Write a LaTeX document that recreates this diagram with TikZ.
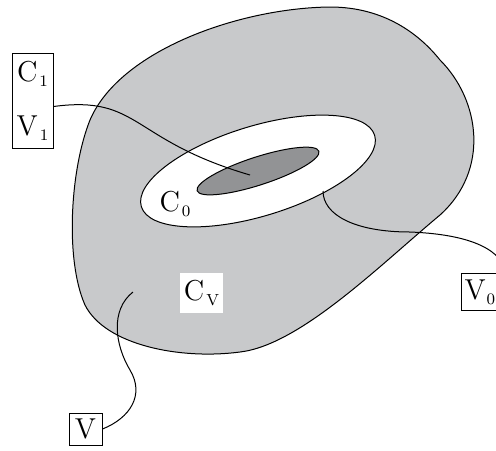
\documentclass[tikz,border=0pt]{standalone}
\definecolor{blobgray}{RGB}{200,201,203}
\definecolor{coregray}{RGB}{146,147,149}
\newcommand{\lsub}[1]{\kern1pt\raisebox{-2.5pt}{\footnotesize #1}}
\begin{document}
\begin{tikzpicture}[x=0.5pt,y=-0.5pt,line width=0.5pt,
    lbl/.style={inner sep=0pt,font=\Large},
    box/.style={lbl,draw}]
        \useasboundingbox (0,0) rectangle (496,450);
        % the set V and the two nested sets
        \draw[fill=blobgray] (330,7) .. controls (240,8) and (120,50) .. (90,120)
            .. controls (70,170) and (65,260) .. (85,305)
            .. controls (105,345) and (180,360) .. (240,352)
            .. controls (300,345) and (380,265) .. (440,215)
            .. controls (490,170) and (480,100) .. (440,60)
            .. controls (420,35) and (385,7) .. cycle;
        \coordinate (O) at (258,171);
        \draw[fill=white,rotate around={17:(O)}] (O) ellipse [x radius=61pt,y radius=22.5pt];
        \draw[fill=coregray,rotate around={18:(O)}] (O) ellipse [x radius=32pt,y radius=7pt];
        \coordinate (core) at (250,175);
        \coordinate (ring) at (323,191);
        \coordinate (outer) at (133,292);
        \node[box,minimum width=20.5pt,minimum height=47.5pt,align=center] (C1V1) at (32.5,100.5) {C\lsub{1}\\[9pt]V\lsub{1}};
        \node[box,minimum width=16.5pt,minimum height=16pt] (V) at (85.5,429) {V};
        \node[box,inner xsep=1.5pt,minimum height=18.5pt,anchor=north west] (V0) at (461,273) {V\kern-0.5pt\lsub{0}\kern4pt};
        \node[lbl,fill=white,minimum width=21.5pt,minimum height=20pt] (CV) at (201.5,293) {C\lsub{V}};
        \node[lbl] (C0) at (175,204) {C\lsub{0}};
        \draw ([yshift=-3pt]C1V1.east) .. controls (140,95) and (130,140) .. (core);
        \draw (V.east) .. controls (130,418) and (145,395) .. (130,370)
            .. controls (115,345) and (110,310) .. (outer);
        \draw (ring) .. controls (323,215) and (355,232) .. (410,232)
            .. controls (460,234) and (500,245) .. (V0.north east);
    \end{tikzpicture}
\end{document}
